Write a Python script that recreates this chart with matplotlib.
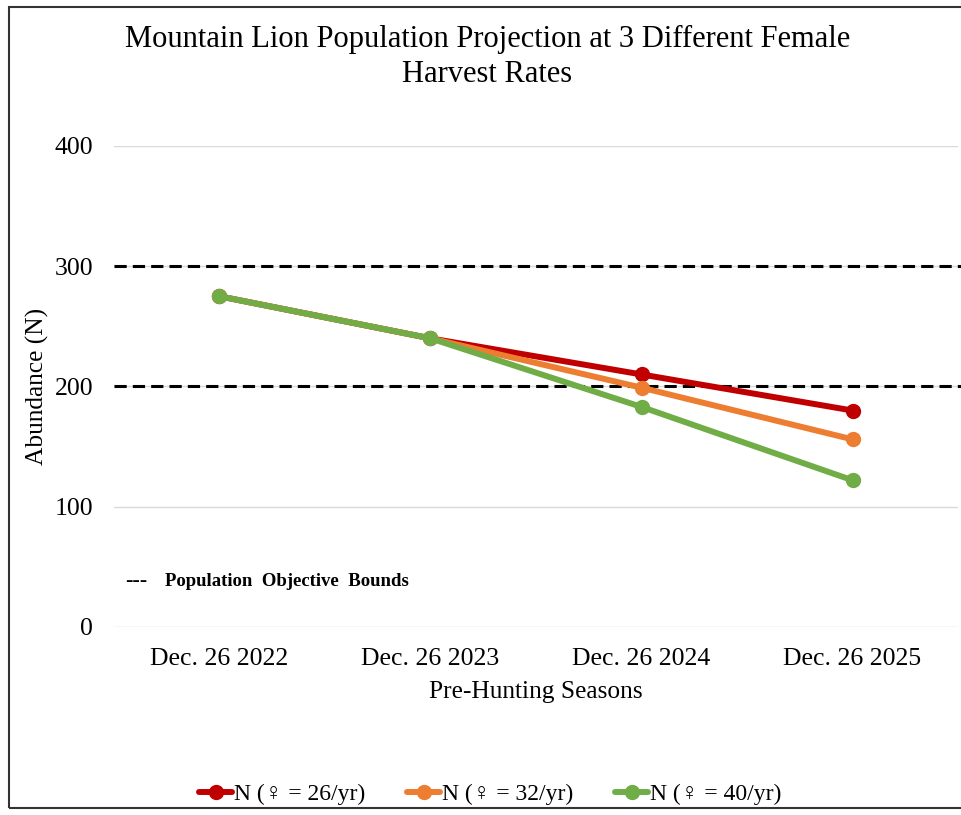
import matplotlib
matplotlib.use('Agg')
from matplotlib import pyplot as plt
from matplotlib.patches import Rectangle

# Data #
seasons = ['Dec. 26 2022', 'Dec. 26 2023', 'Dec. 26 2024', 'Dec. 26 2025']
n_26 = [275, 240, 210, 180]
n_32 = [275, 240, 199, 156]
n_40 = [275, 240, 183, 122]
labels = ['N (\u2640 = 26/yr)', 'N (\u2640 = 32/yr)', 'N (\u2640 = 40/yr)']
colors = ['#C00000', '#ED7D31', '#70AD47']
bounds = [300, 200]
y_ticks = [0, 100, 200, 300, 400]

plt.rcParams['font.family'] = ['Liberation Serif', 'DejaVu Serif']

fig = plt.figure(figsize=(9.61, 8.15), dpi=100)
ax = fig.add_axes([0.1186, 0.2307, 0.8783, 0.5902])

x = list(range(len(seasons)))
for vals, lab, col in zip([n_26, n_32, n_40], labels, colors):
    ax.plot(x, vals, color=col, lw=4.3, marker='o', ms=10, label=lab,
            solid_capstyle='round', zorder=3)

for b in bounds:
    ax.axhline(b, xmin=0, xmax=1.01, color='black', lw=2.2,
               ls=(0, (4, 2)), clip_on=False, zorder=2)

ax.set_xlim(-0.5, 3.5)
ax.set_ylim(0, 400)
ax.set_yticks(y_ticks)
ax.set_xticks(x)
ax.set_xticklabels(seasons, fontsize=18.5)
ax.tick_params(axis='y', labelsize=18.5, length=0, pad=15)
ax.tick_params(axis='x', length=0, pad=15)
ax.grid(axis='y', color='#d9d9d9', lw=1)
ax.set_axisbelow(True)
for s in ax.spines.values():
    s.set_visible(False)

ax.set_xlabel('Pre-Hunting Seasons', fontsize=18.3, labelpad=8)
ax.set_ylabel('Abundance (N)', fontsize=18.3, labelpad=4)

# Note for dashed lines #
ax.text(0.013, 0.095, '---', transform=ax.transAxes, fontsize=16,
        va='center', ha='left')
ax.text(0.06, 0.095, 'Population  Objective  Bounds', transform=ax.transAxes,
        fontsize=13.5, fontweight='bold', va='center', ha='left')

# Title #
fig.text(0.507, 0.969, 'Mountain Lion Population Projection at 3 Different Female\nHarvest Rates',
         ha='center', va='top', fontsize=22, linespacing=1.25)

# Legend #
fig.legend(loc='center', bbox_to_anchor=(0.51, 0.025), ncol=3, frameon=False,
           fontsize=17, handlelength=1.4, handletextpad=0.05, columnspacing=1.8)

# Frame #
fig.patches.append(Rectangle((9 / 961, 7 / 815), 1.0, (808 - 7) / 815,
                             transform=fig.transFigure, fill=False,
                             edgecolor='#333333', lw=1.5))

fig.savefig('out.png', dpi=100)
